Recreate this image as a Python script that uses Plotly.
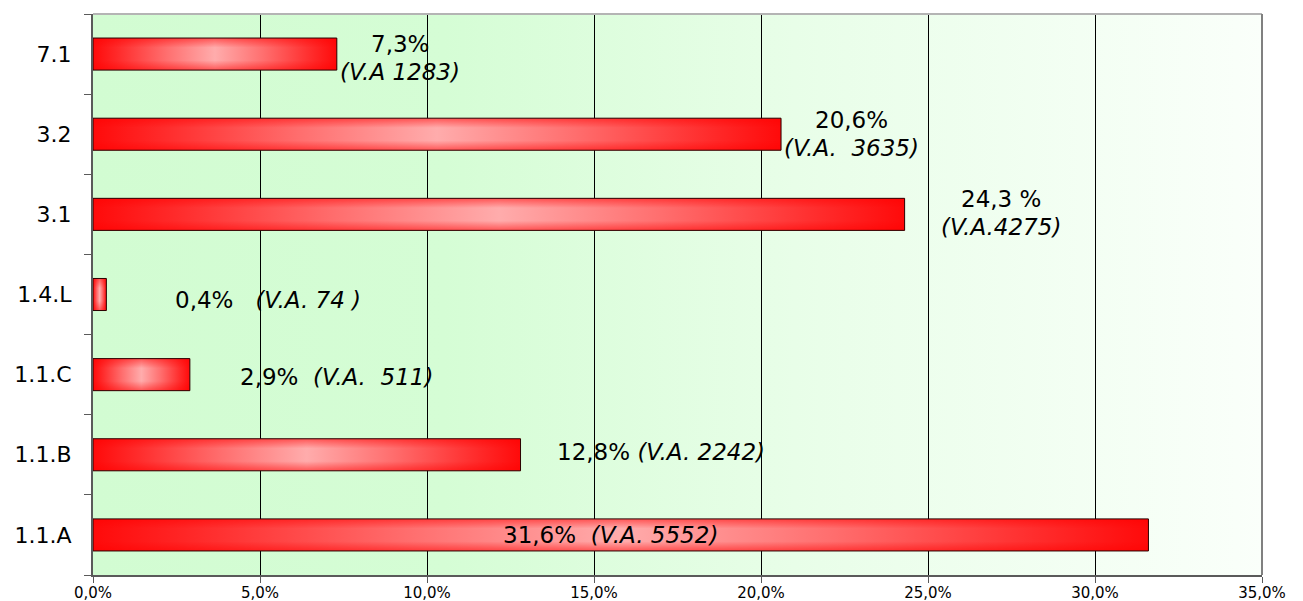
import base64
import plotly.graph_objects as go

# data (bottom to top)
categories = ["1.1.A", "1.1.B", "1.1.C", "1.4.L", "3.1", "3.2", "7.1"]
percent = [31.6, 12.8, 2.9, 0.4, 24.3, 20.6, 7.3]
pct_text = ["31,6%", "12,8%", "2,9%", "0,4%", "24,3 %", "20,6%", "7,3%"]
va_text = ["(V.A. 5552)", "(V.A. 2242)", "(V.A.  511)", "(V.A. 74 )",
           "(V.A.4275)", "(V.A.  3635)", "(V.A 1283)"]
x_ticks = [0, 5, 10, 15, 20, 25, 30, 35]
x_tick_text = ["0,0%", "5,0%", "10,0%", "15,0%", "20,0%", "25,0%", "30,0%", "35,0%"]

# where each label sits
label_x = [15.5, 17.0, 7.3, 5.25, 27.2, 22.7, 9.2]
label_gap = ["\u00a0\u00a0", "\u00a0", "\u00a0\u00a0", "\u00a0\u00a0\u00a0", None, None, None]
label_shift = [0, 3, -2, -5, 1, 0, -4]

FONT = "DejaVu Sans"
half = 0.2

fig = go.Figure()

for i, v in enumerate(percent):
    xs = [0, v, v, 0, 0]
    ys = [i - half, i - half, i + half, i + half, i - half]
    # red -> pink -> red along the bar
    fig.add_trace(go.Scatter(
        x=xs, y=ys, mode="lines", fill="toself",
        fillgradient=dict(type="horizontal",
                          colorscale=[[0, "#ff0a0a"], [0.1, "#ff2a2a"], [0.3, "#ff6e6e"],
                                      [0.5, "#ffacac"], [0.7, "#ff6e6e"], [0.9, "#ff2a2a"],
                                      [1, "#ff0a0a"]]),
        line=dict(color="rgba(0,0,0,0)", width=0),
        hoverinfo="skip", showlegend=False,
    ))
    # darker top / bottom edge
    fig.add_trace(go.Scatter(
        x=xs, y=ys, mode="lines", fill="toself",
        fillgradient=dict(type="vertical",
                          colorscale=[[0, "rgba(255,0,0,0.5)"], [0.3, "rgba(255,0,0,0.0)"],
                                      [0.7, "rgba(255,0,0,0.0)"], [1, "rgba(255,0,0,0.5)"]]),
        line=dict(color="#2a0000", width=1),
        hoverinfo="skip", showlegend=False,
    ))

# labels
lab_font = dict(family=FONT, size=23, color="black")
for i, v in enumerate(percent):
    va = "<i>" + va_text[i].replace(" ", "\u00a0") + "</i>"
    if label_gap[i] is not None:
        fig.add_annotation(x=label_x[i], y=i, text=pct_text[i] + label_gap[i] + va,
                           showarrow=False, yshift=label_shift[i], font=lab_font)
    else:
        fig.add_annotation(x=label_x[i], y=i, text=pct_text[i].replace(" ", "\u00a0"),
                           showarrow=False, yshift=label_shift[i] + 14, font=lab_font)
        fig.add_annotation(x=label_x[i], y=i, text=va, showarrow=False,
                           yshift=label_shift[i] - 14, font=lab_font)

# green background gradient
svg = ('<svg xmlns="http://www.w3.org/2000/svg" width="200" height="20" viewBox="0 0 200 20" '
       'preserveAspectRatio="none"><defs><linearGradient id="g" x1="0" y1="0" x2="1" y2="0">'
       '<stop offset="0" stop-color="#d2fcd2"/><stop offset="0.3" stop-color="#d5fdd5"/>'
       '<stop offset="0.6" stop-color="#e8fee8"/><stop offset="1" stop-color="#fafffa"/>'
       '</linearGradient></defs><rect width="200" height="20" fill="url(#g)"/></svg>')
src = "data:image/svg+xml;base64," + base64.b64encode(svg.encode()).decode()
fig.add_layout_image(source=src, xref="paper", yref="paper", x=0, y=1, sizex=1, sizey=1,
                     sizing="stretch", xanchor="left", yanchor="top", layer="below")

fig.add_shape(type="line", xref="paper", yref="paper", x0=0, x1=1, y0=1, y1=1,
              line=dict(color="#b4b4b4", width=2))
fig.add_shape(type="line", xref="paper", yref="paper", x0=1, x1=1, y0=0, y1=1,
              line=dict(color="#808080", width=2))

# page body has an 8px margin, so the figure is a bit smaller than the window
fig.update_layout(
    width=1295, height=593,
    margin=dict(l=85, r=41, t=6, b=26),
    paper_bgcolor="white", plot_bgcolor="#d4fcd4",
    font=dict(family=FONT, color="black"),
    xaxis=dict(range=[0, 35], tickvals=x_ticks, ticktext=x_tick_text, automargin=False,
               showgrid=True, gridcolor="black", gridwidth=1, zeroline=False,
               showline=True, linecolor="#5a5a5a", linewidth=2,
               ticks="outside", ticklen=6, tickcolor="#5a5a5a", ticklabelstandoff=-3,
               tickfont=dict(family=FONT, size=15)),
    yaxis=dict(range=[-0.5, 6.5], tickvals=list(range(len(categories))), ticktext=categories,
               automargin=False, showgrid=False, zeroline=False,
               showline=True, linecolor="#5a5a5a", linewidth=2,
               ticks="", ticklabelstandoff=15, tickfont=dict(family=FONT, size=22),
               minor=dict(tickmode="array",
                          tickvals=[k - 0.5 for k in range(len(categories) + 1)],
                          ticks="outside", ticklen=7, tickcolor="#5a5a5a", showgrid=False)),
)

fig.write_html("out.html")
